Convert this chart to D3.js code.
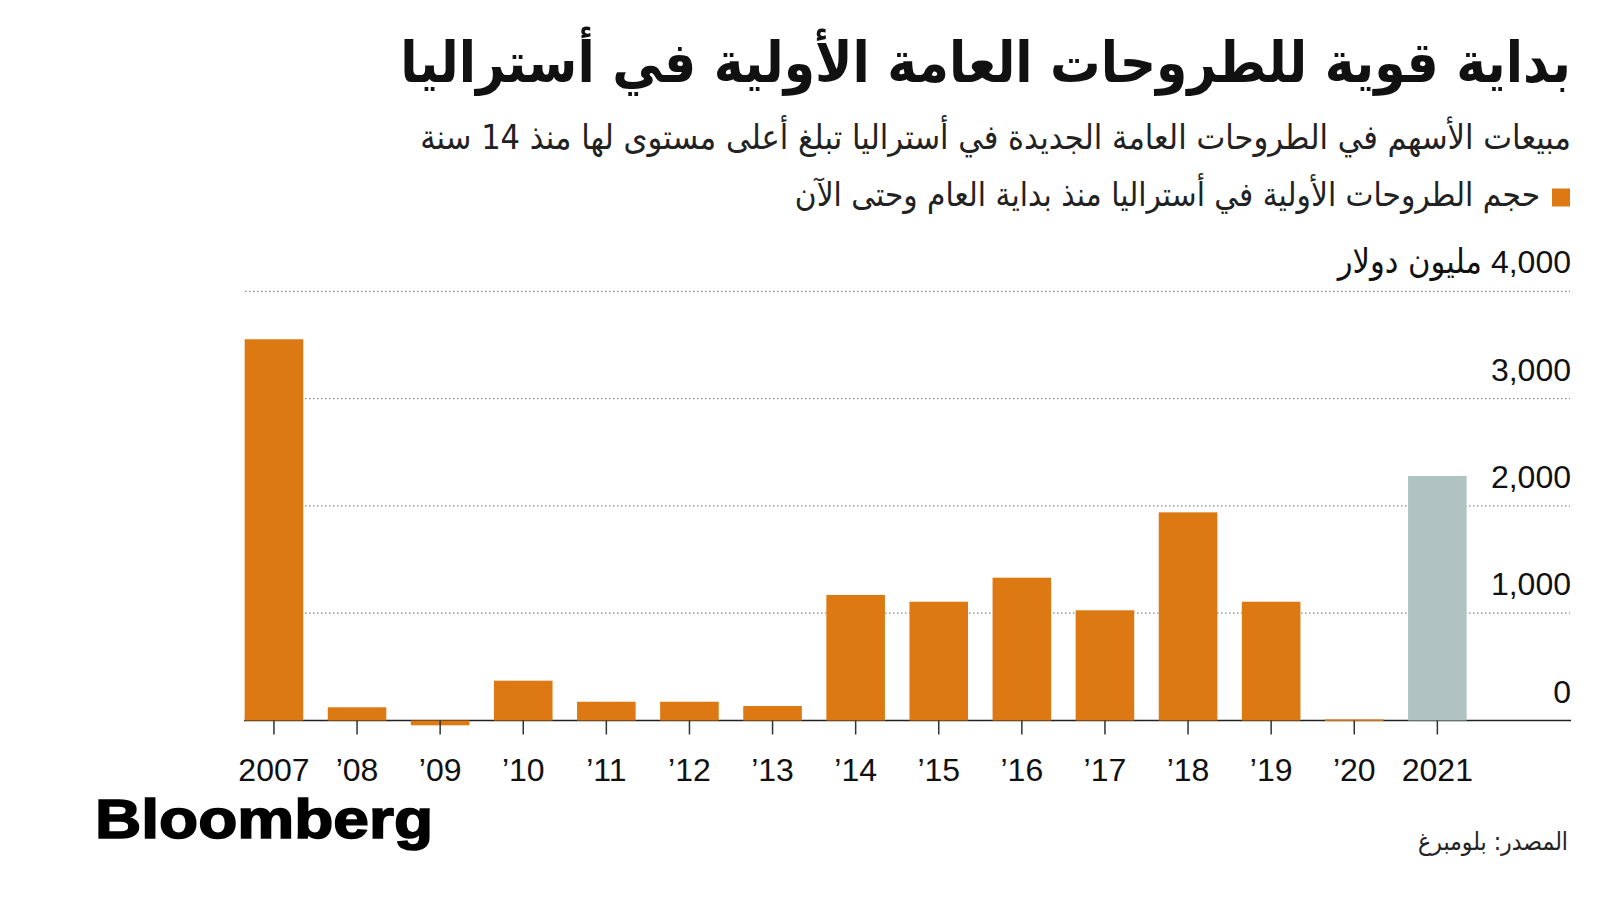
<!DOCTYPE html>
<html>
<head>
<meta charset="utf-8">
<script src="https://cdn.jsdelivr.net/npm/d3@7"></script>
<style>
  html, body { margin: 0; padding: 0; background: #fff; }
  svg { display: block; }
  .ar { font-family: "DejaVu Sans Condensed", "DejaVu Sans", sans-serif; }
  .num { font-family: "Liberation Sans", Arial, sans-serif; }
</style>
</head>
<body>
<svg id="chart" width="1600" height="900"></svg>
<script>
// ---- data ----
const years = ["2007", "’08", "’09", "’10", "’11", "’12", "’13", "’14", "’15", "’16", "’17", "’18", "’19", "’20", "2021"];
const ipoVolume = [3553, 123, -45, 371, 175, 175, 135, 1170, 1107, 1331, 1027, 1940, 1107, 10, 2279];
const ytdYear = "2021";
const yTicks = [0, 1000, 2000, 3000, 4000];

const titleText = "بداية قوية للطروحات العامة الأولية في أستراليا";
const subtitleText = "مبيعات الأسهم في الطروحات العامة الجديدة في أستراليا تبلغ أعلى مستوى لها منذ 14 سنة";
const legendText = "حجم الطروحات الأولية في أستراليا منذ بداية العام وحتى الآن";
const unitText = "مليون دولار";
const sourceText = "المصدر: بلومبرغ";

// ---- layout ----
const svg = d3.select("#chart");
const right = 1571;
const orange = "#DD7912";
const grey = "#B0C3C0";

const x = d3.scaleBand()
  .domain(years)
  .range([232.4, 1478.9])
  .paddingInner(0.295)
  .paddingOuter(0.1475);

const y = d3.scaleLinear()
  .domain([0, 4000])
  .range([720.5, 291.3]);

// title / subtitle / legend
svg.append("text").attr("class", "ar")
  .attr("x", right).attr("y", 82)
  .attr("text-anchor", "end")
  .attr("font-size", 56).attr("font-weight", 700)
  .attr("fill", "#111")
  .text(titleText);

svg.append("text").attr("class", "ar")
  .attr("x", right).attr("y", 149)
  .attr("text-anchor", "end")
  .attr("font-size", 34)
  .attr("fill", "#222")
  .text(subtitleText);

svg.append("rect")
  .attr("x", 1552).attr("y", 188.5)
  .attr("width", 18).attr("height", 18)
  .attr("fill", orange);

svg.append("text").attr("class", "ar")
  .attr("x", 1540).attr("y", 206)
  .attr("text-anchor", "end")
  .attr("font-size", 33)
  .attr("fill", "#222")
  .text(legendText);

// gridlines
const grid = svg.append("g");
grid.selectAll("line")
  .data(yTicks.filter(d => d !== 0))
  .join("line")
  .attr("x1", 245).attr("x2", 1570)
  .attr("y1", d => y(d)).attr("y2", d => y(d))
  .attr("stroke", "#8a8a8a")
  .attr("stroke-width", 1.2)
  .attr("stroke-dasharray", "1.5,2.5");

// y labels
svg.append("g").selectAll("text")
  .data(yTicks)
  .join("text")
  .attr("class", "num")
  .attr("x", right)
  .attr("y", d => y(d) - 18)
  .attr("text-anchor", "end")
  .attr("font-size", 32)
  .attr("fill", "#111")
  .text(d => d3.format(",")(d));

svg.append("text").attr("class", "ar")
  .attr("x", 1482).attr("y", y(4000) - 18)
  .attr("text-anchor", "end")
  .attr("font-size", 34)
  .attr("fill", "#111")
  .text(unitText);

// baseline
svg.append("line")
  .attr("x1", 244).attr("x2", 1571)
  .attr("y1", y(0)).attr("y2", y(0))
  .attr("stroke", "#222").attr("stroke-width", 1.5);

// bars
svg.append("g").selectAll("rect")
  .data(years.map((yr, i) => ({ yr, v: ipoVolume[i] })))
  .join("rect")
  .attr("x", d => x(d.yr))
  .attr("width", x.bandwidth())
  .attr("y", d => y(Math.max(0, d.v)))
  .attr("height", d => Math.max(1.5, Math.abs(y(d.v) - y(0))))
  .attr("fill", d => d.yr === ytdYear ? grey : orange);

// x axis ticks & labels
const xAxis = svg.append("g")
  .attr("transform", `translate(0,${y(0)})`)
  .call(d3.axisBottom(x).tickSize(14).tickSizeOuter(0));
xAxis.select(".domain").remove();
xAxis.selectAll(".tick line").attr("stroke", "#333").attr("stroke-width", 1.5);
xAxis.selectAll(".tick text")
  .attr("class", "num")
  .attr("font-size", 32)
  .attr("fill", "#111")
  .attr("dy", "0.71em")
  .attr("y", 38);

// footer
svg.append("text")
  .attr("x", 95).attr("y", 838)
  .attr("font-family", "Liberation Sans, Arial, sans-serif")
  .attr("font-weight", 700)
  .attr("font-size", 56)
  .attr("textLength", 338)
  .attr("lengthAdjust", "spacingAndGlyphs")
  .attr("fill", "#000")
  .attr("stroke", "#000").attr("stroke-width", 1.6)
  .text("Bloomberg");

svg.append("text").attr("class", "ar")
  .attr("x", 1568).attr("y", 850)
  .attr("text-anchor", "end")
  .attr("font-size", 24.5)
  .attr("fill", "#222")
  .text(sourceText);
</script>
</body>
</html>
